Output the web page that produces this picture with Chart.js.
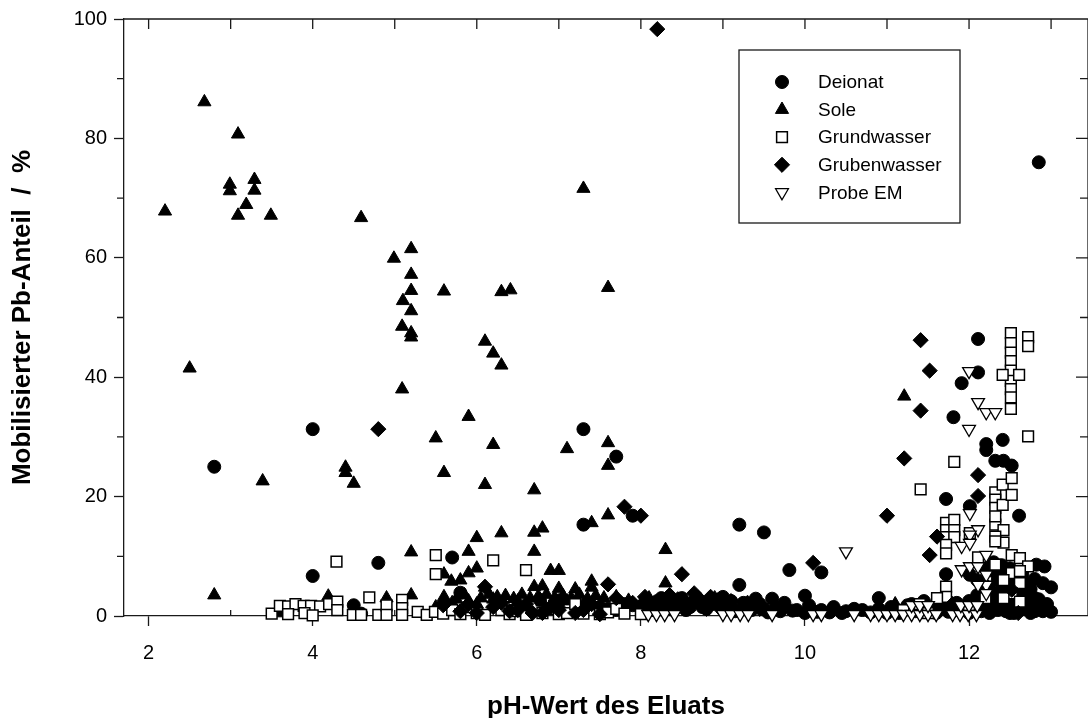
<!DOCTYPE html>
<html>
<head>
<meta charset="utf-8">
<script src="https://cdn.jsdelivr.net/npm/chart.js"></script>
<style>
  html, body { margin: 0; padding: 0; background: #fff; }
  #wrap { width: 1088px; height: 718px; position: relative; }
</style>
</head>
<body>
<div id="wrap"><canvas id="myChart"></canvas></div>
<script>
// values (pH, mobilised Pb share in %)
const seriesNames = ['Deionat', 'Sole', 'Grundwasser', 'Grubenwasser', 'Probe EM']

const deionatPH = [2.8, 4.0, 4.0, 4.5, 4.59, 4.8, 5.7, 5.8, 7.3, 7.3, 7.7, 7.9, 9.2, 9.5, 9.81, 10.2, 9.2, 9.4, 9.6, 10.0, 10.9,
    11.72, 11.72, 11.81, 11.91, 12.11, 12.11, 12.01, 12.01, 12.21, 12.21, 12.32, 12.41, 12.42, 12.52, 12.61, 12.82, 12.92, 13.0, 13.0, 12.85,
    6.0, 6.5, 7.0, 7.5, 7.7, 7.9, 8.0, 8.1, 8.2, 8.3, 8.4, 8.6, 8.8, 8.9, 9.0, 9.1, 9.3, 9.5, 9.7, 9.9, 10.0, 10.2, 10.3, 10.5, 10.7, 10.9,
    11.0, 11.2, 11.3, 11.5, 11.7, 11.9, 12.0, 12.1, 12.2, 12.25, 12.3, 12.35, 12.4, 12.45, 12.5, 12.5, 12.55, 12.6, 12.6, 12.65, 12.7, 12.7,
    12.75, 12.8, 12.85, 12.9, 12.9, 12.2, 12.3, 12.4, 12.1, 12.0, 11.8, 11.6, 8.5, 8.7, 9.0,
    12.05, 12.15, 12.15, 12.2, 12.25, 12.3, 12.35, 12.4, 12.45, 12.45, 12.5, 12.55, 12.55, 12.6, 12.65, 12.65, 12.7, 12.75, 12.75, 12.8,
    12.8, 12.85, 12.9, 12.95, 12.3, 12.4, 12.5, 12.2, 12.1,
    7.6, 7.8, 8.15, 8.25, 8.45, 8.55, 8.65, 8.75, 8.95, 9.05, 9.15, 9.25, 9.35, 9.45, 9.55, 9.65, 9.75, 9.85, 10.05, 10.15, 10.35, 10.45,
    10.6, 10.8, 11.05, 11.15, 11.25, 11.35, 11.45, 11.55, 11.65, 11.75, 11.85, 11.95, 6.77, 7.78]
const deionatPb = [25.0, 31.3, 6.7, 1.8, 0.4, 8.9, 9.8, 3.9, 31.3, 15.3, 26.7, 16.8, 15.3, 14.0, 7.7, 7.3, 5.2, 2.9, 2.9, 3.4, 3.0,
    19.6, 7.0, 33.3, 39.0, 46.4, 40.8, 18.4, 6.9, 28.8, 27.8, 26.0, 29.5, 26.0, 25.2, 16.8, 8.6, 8.3, 4.8, 0.7, 76.0,
    1.0, 1.5, 1.2, 1.5, 1.0, 1.8, 1.5, 2.0, 2.5, 2.0, 1.0, 1.5, 1.2, 2.0, 1.0, 2.5, 1.5, 1.2, 0.8, 1.0, 0.5, 1.0, 0.6, 0.8, 1.0, 1.2,
    0.5, 1.0, 2.0, 1.5, 2.0, 1.0, 2.5, 3.5, 1.0, 4.5, 2.0, 6.0, 1.5, 3.5, 0.5, 5.5, 2.5, 1.0, 4.0, 7.0, 2.0, 5.0,
    0.5, 3.0, 1.5, 0.8, 5.5, 8.0, 9.0, 7.5, 6.0, 0.5, 0.8, 0.5, 3.0, 2.8, 3.2,
    1.2, 0.8, 2.5, 5.0, 0.5, 3.2, 1.0, 4.5, 0.8, 6.5, 2.0, 5.0, 0.5, 3.0, 1.2, 6.0, 3.5, 1.8, 4.5, 0.8,
    6.2, 2.8, 1.2, 2.0, 7.5, 8.5, 8.0, 2.0, 1.0,
    1.2, 2.0, 1.0, 3.0, 2.2, 1.0, 2.5, 1.5, 2.8, 1.8, 0.8, 2.2, 1.0, 2.0, 0.6, 1.5, 2.2, 0.9, 1.8, 0.7, 1.5, 0.5,
    1.2, 0.6, 1.5, 0.5, 1.8, 0.8, 2.5, 1.0, 1.6, 0.7, 2.2, 1.5, 2.7, 1.6]

const solePH = [2.2, 2.5, 2.68, 2.8, 2.99, 2.99, 3.09, 3.09, 3.19, 3.29, 3.29, 3.39, 3.49, 4.4, 4.4, 4.5, 4.59, 4.99, 5.09, 5.09, 5.1,
    5.2, 5.2, 5.2, 5.2, 5.2, 5.2, 5.2, 5.5, 5.6, 5.6, 5.6, 5.9, 5.9, 5.9, 6.0, 6.0, 6.1, 6.1, 6.2, 6.3, 6.2, 6.3, 6.3, 6.41,
    6.7, 6.7, 6.7, 6.7, 6.8, 6.8, 6.9, 7.0, 7.0, 7.1, 7.2, 7.3, 7.4, 7.4, 7.4, 7.6, 7.6, 7.6, 7.6, 8.3, 8.3, 11.21,
    3.62, 4.19, 4.9, 5.2, 5.69, 5.8, 6.1, 5.5, 5.7, 5.9, 6.0, 6.2, 6.3, 6.5, 6.6, 6.8, 6.9, 7.1, 7.3, 7.5, 7.7, 8.0, 8.2,
    8.4, 8.6, 8.8, 9.0, 11.1, 11.6, 12.0, 12.3, 12.5,
    5.6, 5.75, 5.85, 6.05, 6.15, 6.25, 6.35, 6.45, 6.55, 6.65, 6.75, 6.85, 6.95, 7.05, 7.15, 7.25, 7.35, 7.45, 7.55, 7.7, 7.85, 8.1, 8.5, 8.9]
const solePb = [67.8, 41.5, 86.1, 3.5, 72.3, 71.2, 80.7, 67.1, 68.9, 73.1, 71.3, 22.6, 67.1, 24.9, 24.0, 22.2, 66.7, 59.9, 48.5, 38.0, 52.8,
    61.5, 57.2, 54.5, 51.1, 47.4, 46.7, 10.7, 29.8, 54.4, 24.0, 7.0, 33.4, 10.8, 7.2, 13.1, 8.0, 22.0, 46.0, 44.0, 42.0, 28.7, 13.9, 54.3, 54.6,
    21.1, 14.0, 10.8, 4.9, 14.7, 5.0, 7.6, 7.6, 4.6, 28.0, 4.5, 71.6, 15.6, 5.8, 4.8, 55.0, 29.0, 25.2, 16.9, 11.1, 5.5, 36.8,
    0.5, 3.3, 3.0, 3.5, 5.8, 6.0, 4.8, 1.5, 2.2, 2.5, 2.0, 2.8, 2.2, 2.5, 1.8, 2.3, 1.5, 2.5, 2.0, 1.8, 1.5, 2.0, 1.5,
    2.0, 1.8, 2.2, 1.5, 2.0, 1.0, 1.5, 2.0, 3.0,
    3.2, 2.8, 3.5, 3.0, 3.6, 3.2, 3.4, 2.9, 3.6, 3.0, 3.3, 3.6, 3.1, 3.4, 3.0, 3.6, 2.9, 3.4, 3.0, 3.2, 2.6, 3.0, 2.6, 3.0]

const grundPH = [3.5, 3.6, 3.7, 3.79, 3.89, 3.98, 4.09, 4.2, 4.3, 4.3, 4.49, 4.59, 4.69, 4.8, 4.9, 4.9, 5.09, 5.09, 5.09, 5.28, 5.39, 5.49, 5.59,
    3.7, 3.9, 4.0, 4.29, 5.5, 5.5, 6.2, 6.6, 5.7, 5.8, 5.9, 6.0, 6.1, 6.3, 6.4, 6.5, 6.6, 6.8, 6.9, 7.0, 7.1, 7.2, 7.3, 7.5, 7.6, 7.7, 7.8, 8.0,
    11.41, 11.82, 11.72, 11.82, 11.72, 11.82, 11.72, 11.82, 11.72, 11.72, 11.72, 11.72, 11.61, 12.01, 12.11, 12.32, 12.42, 12.32, 12.42, 12.32,
    12.32, 12.32, 12.32, 12.32, 12.41, 12.41, 12.52, 12.52, 12.32, 12.52, 12.62, 12.72, 12.52, 12.62, 12.52, 12.62,
    12.51, 12.51, 12.51, 12.51, 12.51, 12.51, 12.51, 12.51, 12.51, 12.72, 12.72, 12.41, 12.61, 12.72,
    11.2, 11.4, 11.5, 12.0, 12.2, 12.42, 12.62, 12.42]
const grundPb = [0.4, 1.7, 1.6, 2.0, 1.7, 1.7, 1.6, 2.0, 2.4, 1.0, 0.2, 0.2, 3.1, 0.2, 1.8, 0.2, 2.7, 1.3, 0.2, 0.7, 0.2, 0.7, 0.4,
    0.3, 0.5, 0.1, 9.1, 10.2, 7.0, 9.3, 7.7, 1.0, 0.3, 1.5, 0.5, 0.2, 1.0, 0.3, 0.8, 0.2, 0.5, 1.2, 0.3, 0.5, 2.0, 0.4, 0.3, 0.6, 1.2, 0.4, 0.3,
    21.2, 25.8, 15.6, 16.1, 14.4, 14.4, 13.2, 13.2, 11.9, 10.5, 4.9, 3.2, 3.0, 13.9, 9.8, 15.3, 14.4, 13.3, 12.3, 12.5,
    20.7, 19.5, 18.1, 16.7, 22.0, 18.6, 23.1, 20.3, 8.6, 10.2, 9.7, 8.3, 7.2, 5.5, 3.8, 2.4,
    47.4, 45.7, 44.1, 42.7, 41.1, 39.4, 38.0, 36.6, 34.7, 46.7, 45.2, 40.4, 40.4, 30.1,
    1.0, 2.0, 0.5, 1.0, 3.0, 6.0, 7.5, 3.0]

const grubenPH = [4.8, 5.59, 5.6, 6.0, 6.1, 6.2, 6.4, 6.68, 7.2, 6.9, 7.0, 7.6, 7.8, 8.0, 8.2, 8.5, 8.1, 8.3, 8.4, 8.6, 8.7, 8.8, 8.9, 9.0,
    10.1, 11.0, 11.21, 11.41, 11.41, 11.52, 11.52, 11.61, 12.11, 12.11, 12.52, 12.3, 12.6, 11.8, 5.8, 6.6, 7.3, 7.5,
    7.7, 7.9, 8.05, 8.15, 8.25, 8.35, 8.45, 8.55, 8.65, 8.75, 8.85, 8.95, 9.1, 9.2, 9.3, 9.45, 5.9, 6.3, 6.5, 6.8, 7.0, 7.4]
const grubenPb = [31.3, 1.8, 2.2, 0.5, 4.9, 1.5, 0.8, 0.5, 0.5, 1.5, 2.5, 5.3, 18.3, 16.8, 98.3, 7.0, 1.0, 2.5, 0.8, 2.0, 3.0, 1.2, 2.5, 0.8,
    8.9, 16.8, 26.4, 46.2, 34.4, 41.1, 10.2, 13.3, 23.6, 20.1, 4.4, 1.0, 0.5, 2.0, 0.8, 2.0, 1.0, 0.3,
    3.0, 2.2, 3.2, 2.0, 1.2, 3.5, 2.8, 1.5, 3.8, 2.0, 3.2, 1.8, 2.5, 1.0, 2.2, 1.2, 2.0, 2.2, 1.0, 0.5, 1.0, 2.0]

const probePH = [8.09, 8.19, 8.29, 8.41, 9.0, 9.1, 9.21, 9.31, 9.6, 10.1, 10.2, 10.6, 10.8, 10.9, 11.0, 11.1, 11.2, 11.3, 11.4, 11.5, 11.6,
    11.8, 11.89, 11.99, 12.09, 11.3, 11.4, 11.5, 11.9, 12.0, 12.1,
    10.5, 12.0, 12.11, 12.21, 12.32, 12.0, 12.01, 12.11, 12.01, 11.91, 12.01, 12.21, 11.91, 12.01, 12.11, 12.21, 12.21, 12.21, 12.11]
const probePb = [0.3, 0.3, 0.3, 0.3, 0.3, 0.3, 0.3, 0.3, 0.3, 0.3, 0.3, 0.3, 0.3, 0.3, 0.3, 0.3, 0.3, 0.3, 0.3, 0.3, 0.3,
    0.3, 0.3, 0.3, 0.3, 1.8, 1.8, 1.8, 1.8, 1.8, 1.8,
    10.8, 41.0, 35.8, 34.1, 34.1, 31.3, 17.2, 14.5, 13.6, 11.7, 12.2, 10.2, 7.8, 8.3, 8.3, 6.9, 5.2, 3.8, 5.2]

const xTicks = [2, 4, 6, 8, 10, 12]
const yTicks = [0, 20, 40, 60, 80, 100]

const toPoints = (xs, ys) => xs.map((x, i) => ({ x: x, y: ys[i] }))

const ink = '#1a1a1a'
const markerStyles = [
    { pointStyle: 'circle', radius: 6.5, rotation: 0, fill: '#000', border: '#000', bw: 1 },
    { pointStyle: 'triangle', radius: 7.6, rotation: 0, fill: '#000', border: '#000', bw: 1 },
    { pointStyle: 'rect', radius: 7.6, rotation: 0, fill: '#fff', border: '#000', bw: 1.5 },
    { pointStyle: 'rectRot', radius: 7.6, rotation: 0, fill: '#000', border: '#000', bw: 1 },
    { pointStyle: 'triangle', radius: 7.4, rotation: 180, fill: '#fff', border: '#000', bw: 1.3 }
]
const allData = [
    toPoints(deionatPH, deionatPb),
    toPoints(solePH, solePb),
    toPoints(grundPH, grundPb),
    toPoints(grubenPH, grubenPb),
    toPoints(probePH, probePb)
]

// frame, minor ticks and the boxed legend
const framePlugin = {
    id: 'frame',
    beforeDatasetsDraw(chart) {
        const { ctx, chartArea: a, scales: { x, y } } = chart
        ctx.save()
        ctx.strokeStyle = ink
        ctx.lineWidth = 1.3
        ctx.beginPath()
        ctx.moveTo(a.left, a.top); ctx.lineTo(a.right, a.top)
        ctx.moveTo(a.right, a.top); ctx.lineTo(a.right, a.bottom)
        // left minor ticks (outside)
        for (let v = 10; v < 100; v += 20) {
            const py = y.getPixelForValue(v)
            ctx.moveTo(a.left - 7, py); ctx.lineTo(a.left, py)
        }
        // right ticks (inside)
        for (let v = 10; v < 100; v += 10) {
            const py = y.getPixelForValue(v)
            const len = v % 20 === 0 ? 10 : 6
            ctx.moveTo(a.right - 2 - len, py); ctx.lineTo(a.right, py)
        }
        // top ticks (inside) every unit, bottom minor ticks (inside)
        for (let v = 2; v <= 13; v++) {
            const px = x.getPixelForValue(v)
            ctx.moveTo(px, a.top); ctx.lineTo(px, a.top + 10)
            if (v % 2 === 1) { ctx.moveTo(px, a.bottom); ctx.lineTo(px, a.bottom - 6) }
        }
        ctx.stroke()
        ctx.restore()
    },
    afterDraw(chart) {
        const { ctx } = chart
        ctx.save()
        ctx.strokeStyle = ink
        ctx.lineWidth = 1.3
        ctx.fillStyle = '#fff'
        ctx.fillRect(739, 50, 221, 173)
        ctx.strokeRect(739, 50, 221, 173)
        ctx.font = '19px "Liberation Sans", Arial, sans-serif'
        ctx.textBaseline = 'middle'
        seriesNames.forEach((name, i) => {
            const ry = 82 + i * 27.6
            const m = markerStyles[i]
            ctx.fillStyle = m.fill
            ctx.strokeStyle = m.border
            ctx.lineWidth = m.bw
            Chart.helpers.drawPoint(ctx, { pointStyle: m.pointStyle, radius: m.radius, rotation: m.rotation, borderWidth: m.bw }, 782, ry)
            ctx.fillStyle = '#000'
            ctx.fillText(name, 818, ry + 1)
        })
        ctx.restore()
    }
}

const datasets = seriesNames.map((name, i) => ({
    label: name,
    data: allData[i],
    pointStyle: markerStyles[i].pointStyle,
    pointRadius: markerStyles[i].radius,
    pointHoverRadius: markerStyles[i].radius,
    pointRotation: markerStyles[i].rotation,
    backgroundColor: markerStyles[i].fill,
    borderColor: markerStyles[i].border,
    pointBorderWidth: markerStyles[i].bw,
    showLine: false,
    clip: false,
    order: 5 - i
}))

const tickFont = { family: '"Liberation Sans", Arial, sans-serif', size: 20 }
const titleFont = { family: '"Liberation Sans", Arial, sans-serif', size: 26, weight: 'bold' }

const config = {
    type: 'scatter',
    data: { datasets: datasets },
    options: {
        responsive: true,
        maintainAspectRatio: false,
        animation: false,
        layout: { autoPadding: false, padding: { top: 19, right: 0, left: 0, bottom: 0 } },
        plugins: { legend: { display: false }, tooltip: { enabled: false } },
        scales: {
            x: {
                type: 'linear',
                min: 1.7,
                max: 13.45,
                afterBuildTicks: s => { s.ticks = xTicks.map(v => ({ value: v })) },
                afterFit: s => { s.height = 102; s.paddingLeft = 0; s.paddingRight = 0 },
                grid: { drawOnChartArea: false, drawTicks: true, tickLength: 10, tickWidth: 1.3, tickColor: ink },
                border: { display: true, color: ink, width: 1.3 },
                ticks: { color: '#000', font: tickFont, padding: 15, maxRotation: 0 },
                title: { display: true, text: 'pH-Wert des Eluats', color: '#000', font: titleFont, padding: { top: 0, bottom: -4 } }
            },
            y: {
                type: 'linear',
                min: 0,
                max: 100,
                afterBuildTicks: s => { s.ticks = yTicks.map(v => ({ value: v })) },
                afterFit: s => { s.width = 124; s.paddingTop = 0; s.paddingBottom = 0 },
                grid: { drawOnChartArea: false, drawTicks: true, tickLength: 10, tickWidth: 1.3, tickColor: ink },
                border: { display: true, color: ink, width: 1.3 },
                ticks: { color: '#000', font: tickFont, padding: 7 },
                title: { display: true, text: 'Mobilisierter Pb-Anteil  /  %', color: '#000', font: titleFont, padding: { top: 7, bottom: 0 } }
            }
        }
    },
    plugins: [framePlugin]
}

const myChart = new Chart(document.getElementById('myChart'), config)
</script>
</body>
</html>
